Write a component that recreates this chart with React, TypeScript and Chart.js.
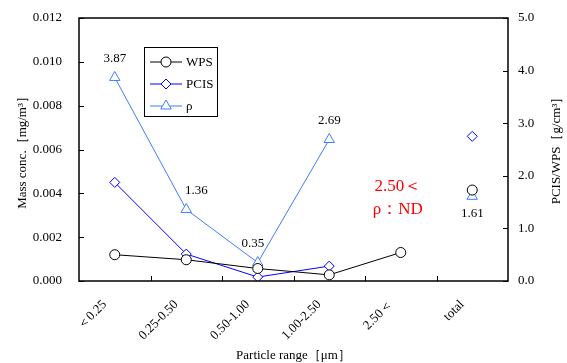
import { useEffect, useRef } from 'react';
import { Chart, registerables } from 'chart.js';

Chart.register(...registerables);

const categories = ['＜0.25', '0.25-0.50', '0.50-1.00', '1.00-2.50', '2.50＜', 'total'];
const wpsValues = [0.0012, 0.00097, 0.00057, 0.00028, 0.0013, 0.00415];
const pcisValues: (number | null)[] = [0.0045, 0.00123, 0.00018, 0.00068, null, 0.0066];
const rhoValues: (number | null)[] = [3.87, 1.36, 0.35, 2.69, null, 1.61];
const rhoLabels = ['3.87', '1.36', '0.35', '2.69', '', '1.61'];
const seriesNames = ['WPS', 'PCIS', 'ρ'];
const noteLines = ['2.50＜', 'ρ：ND'];
const rightTitle = 'PCIS/WPS［g/cm³］';

const SERIF = '"Liberation Serif", "Times New Roman", serif';
const BLACK = '#000000';
const BLUE = '#0000ff';
const LIGHTBLUE = '#3f7bff';

function drawMarker(ctx: CanvasRenderingContext2D, style: string, x: number, y: number, r: number, color: string) {
  ctx.save();
  ctx.strokeStyle = color;
  ctx.fillStyle = '#ffffff';
  ctx.lineWidth = 1;
  ctx.beginPath();
  if (style === 'circle') {
    ctx.arc(x, y, r, 0, Math.PI * 2);
  } else if (style === 'rectRot') {
    ctx.moveTo(x, y - r);
    ctx.lineTo(x + r, y);
    ctx.lineTo(x, y + r);
    ctx.lineTo(x - r, y);
    ctx.closePath();
  } else {
    ctx.moveTo(x, y - r);
    ctx.lineTo(x + r * 0.87, y + r * 0.5);
    ctx.lineTo(x - r * 0.87, y + r * 0.5);
    ctx.closePath();
  }
  ctx.fill();
  ctx.stroke();
  ctx.restore();
}

const decorPlugin = {
  id: 'decor',
  afterDraw(chart: any) {
    const ctx: CanvasRenderingContext2D = chart.ctx;
    const { left, right, top, bottom } = chart.chartArea;
    const xs = chart.scales.x;
    const yl = chart.scales.y;
    const yr = chart.scales.y1;
    ctx.save();
    // frame
    ctx.strokeStyle = '#000';
    ctx.lineWidth = 1.5;
    ctx.strokeRect(left, top, right - left, bottom - top);
    // inward ticks
    ctx.lineWidth = 1;
    ctx.beginPath();
    yl.ticks.forEach((t: any) => {
      const y = Math.round(yl.getPixelForValue(t.value)) + 0.5;
      ctx.moveTo(left, y);
      ctx.lineTo(left + 5, y);
    });
    yr.ticks.forEach((t: any) => {
      const y = Math.round(yr.getPixelForValue(t.value)) + 0.5;
      ctx.moveTo(right, y);
      ctx.lineTo(right - 5, y);
    });
    for (let i = 0; i < categories.length - 1; i++) {
      const x = Math.round((xs.getPixelForValue(i) + xs.getPixelForValue(i + 1)) / 2) + 0.5;
      ctx.moveTo(x, bottom);
      ctx.lineTo(x, bottom - 5);
    }
    ctx.stroke();

    // right axis title (reads bottom-to-top)
    ctx.save();
    ctx.translate(557, (top + bottom) / 2 - 2);
    ctx.rotate(-Math.PI / 2);
    ctx.fillStyle = '#000';
    ctx.font = `13px ${SERIF}`;
    ctx.textAlign = 'center';
    ctx.textBaseline = 'middle';
    ctx.fillText(rightTitle, 0, 0);
    ctx.restore();

    // legend
    const lx = left + 65;
    const ly = top + 29;
    const lw = 73;
    const lh = 69;
    ctx.fillStyle = '#fff';
    ctx.fillRect(lx, ly, lw, lh);
    ctx.strokeStyle = '#000';
    ctx.lineWidth = 1;
    ctx.strokeRect(lx + 0.5, ly + 0.5, lw, lh);
    const styles = ['circle', 'rectRot', 'triangle'];
    const colors = [BLACK, BLUE, LIGHTBLUE];
    const radii = [5, 5, 6];
    seriesNames.forEach((name, i) => {
      const y = ly + 15 + i * 22;
      ctx.strokeStyle = colors[i];
      ctx.lineWidth = 1;
      ctx.beginPath();
      ctx.moveTo(lx + 6, y);
      ctx.lineTo(lx + 38, y);
      ctx.stroke();
      drawMarker(ctx, styles[i], lx + 22, y, radii[i], colors[i]);
      ctx.fillStyle = '#000';
      ctx.font = `13px ${SERIF}`;
      ctx.textAlign = 'left';
      ctx.textBaseline = 'middle';
      ctx.fillText(name, lx + 42, y + 1);
    });

    // rho value labels
    ctx.font = `13px ${SERIF}`;
    ctx.fillStyle = '#000';
    ctx.textAlign = 'center';
    ctx.textBaseline = 'middle';
    const nudgeX = [0, 10, -5, 0, 0, 0];
    rhoValues.forEach((v, i) => {
      if (v === null || !rhoLabels[i]) return;
      const px = xs.getPixelForValue(i) + nudgeX[i];
      const py = yr.getPixelForValue(v);
      const below = i === categories.length - 1;
      ctx.fillText(rhoLabels[i], px, below ? py + 17 : py - 19);
    });

    // red note
    ctx.fillStyle = '#ff0000';
    ctx.font = `17px ${SERIF}`;
    const nx = xs.getPixelForValue(4) - 3;
    noteLines.forEach((t, i) => {
      ctx.fillText(t, nx, top + 169 + i * 23);
    });
    ctx.restore();
  },
};

export default function App() {
  const ref = useRef<HTMLCanvasElement>(null);
  useEffect(() => {
    if (!ref.current) return;
    const lastIdx = categories.length - 1;
    const seg = (color: string) => ({
      borderColor: (c: any) => (c.p1DataIndex === lastIdx ? 'transparent' : color),
    });
    const chart = new Chart(ref.current, {
      type: 'line',
      data: {
        labels: categories,
        datasets: [
          {
            label: seriesNames[0],
            data: wpsValues,
            yAxisID: 'y',
            borderColor: BLACK,
            backgroundColor: '#fff',
            pointBackgroundColor: '#fff',
            pointBorderColor: BLACK,
            pointStyle: 'circle',
            pointRadius: 5,
            borderWidth: 1,
            pointBorderWidth: 1,
            segment: seg(BLACK),
          },
          {
            label: seriesNames[1],
            data: pcisValues,
            yAxisID: 'y',
            borderColor: BLUE,
            pointBackgroundColor: '#fff',
            pointBorderColor: BLUE,
            pointStyle: 'rectRot',
            pointRadius: 5,
            borderWidth: 1,
            pointBorderWidth: 1,
            spanGaps: false,
            segment: seg(BLUE),
          },
          {
            label: seriesNames[2],
            data: rhoValues,
            yAxisID: 'y1',
            borderColor: LIGHTBLUE,
            pointBackgroundColor: '#fff',
            pointBorderColor: LIGHTBLUE,
            pointStyle: 'triangle',
            pointRadius: 6,
            borderWidth: 1,
            pointBorderWidth: 1,
            spanGaps: false,
            segment: seg(LIGHTBLUE),
          },
        ],
      },
      options: {
        animation: false,
        responsive: false,
        maintainAspectRatio: false,
        layout: { padding: { top: 18, left: 0, right: 0, bottom: 0 } },
        plugins: { legend: { display: false }, tooltip: { enabled: false } },
        scales: {
          x: {
            type: 'category',
            offset: true,
            grid: { display: false },
            border: { display: false },
            ticks: {
              color: '#000',
              font: { family: SERIF, size: 13 },
              maxRotation: 45,
              minRotation: 45,
              labelOffset: -10,
              padding: 8,
            },
            title: {
              display: true,
              text: 'Particle range［μm］',
              color: '#000',
              font: { family: SERIF, size: 13 },
              padding: 0,
            },
            afterFit: (s: any) => {
              s.height = 82;
            },
          },
          y: {
            position: 'left',
            min: 0,
            max: 0.012,
            grid: { display: false },
            border: { display: false },
            ticks: {
              stepSize: 0.002,
              color: '#000',
              font: { family: SERIF, size: 13 },
              padding: 9,
              callback: (v: any) => Number(v).toFixed(3),
            },
            title: {
              display: true,
              text: 'Mass conc.［mg/m³］',
              color: '#000',
              font: { family: SERIF, size: 13 },
              padding: { top: 15, bottom: 0 },
            },
            afterFit: (s: any) => {
              s.width = 79;
            },
          },
          y1: {
            position: 'right',
            min: 0,
            max: 5,
            grid: { display: false },
            border: { display: false },
            ticks: {
              stepSize: 1,
              color: '#000',
              font: { family: SERIF, size: 13 },
              padding: 2,
              callback: (v: any) => Number(v).toFixed(1),
            },
            title: { display: false },
            afterFit: (s: any) => {
              s.width = 59;
            },
          },
        },
      },
      plugins: [decorPlugin],
    } as any);
    return () => chart.destroy();
  }, []);
  return (
    <div style={{ position: 'fixed', left: 0, top: 0, width: 567, height: 363, background: '#fff' }}>
      <canvas ref={ref} width={567} height={363} style={{ width: 567, height: 363 }} />
    </div>
  );
}
